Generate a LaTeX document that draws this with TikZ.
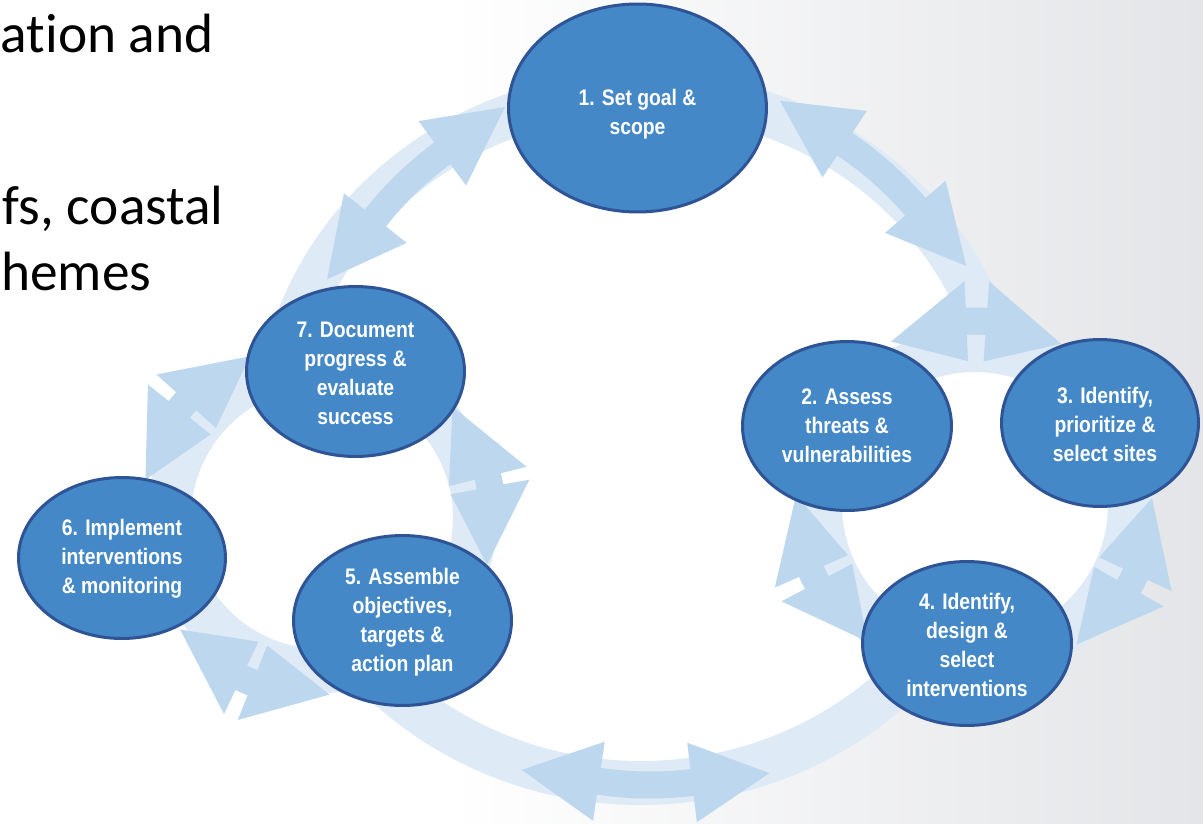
\documentclass[tikz,border=0pt]{standalone}
\usepackage{fontspec}
\setmainfont{Carlito}[Ligatures=NoCommon]
\newfontfamily\nodefont[FakeStretch=0.86]{Liberation Sans}
\usetikzlibrary{calc,shapes.geometric}
\definecolor{arrowblue}{RGB}{189,215,238}
\definecolor{paleblue}{RGB}{222,234,246}
\definecolor{nodefill}{RGB}{68,136,199}
\definecolor{nodeline}{RGB}{46,84,150}
\definecolor{bgright}{RGB}{228,229,232}
% double-headed block arrow along an arc:
% #1 centre, #2 radius, #3 base angle 1, #4 base angle 2, #5 tip angle offset, #6 tip radius
\newcommand{\dblarc}[6]{%
  \pgfmathsetmacro{\dRo}{#2+13.5}\pgfmathsetmacro{\dRi}{#2-13.5}%
  \pgfmathsetmacro{\dHo}{#2+40}\pgfmathsetmacro{\dHi}{#2-40}%
  \pgfmathsetmacro{\dTa}{#3-#5}\pgfmathsetmacro{\dTb}{#4+#5}%
  \fill[arrowblue] ($(#1)+(#3:\dHo)$) -- ($(#1)+(\dTa:#6)$) -- ($(#1)+(#3:\dHi)$)
    -- ($(#1)+(#3:\dRi)$) arc[start angle=#3, end angle=#4, radius=\dRi]
    -- ($(#1)+(#4:\dHi)$) -- ($(#1)+(\dTb:#6)$) -- ($(#1)+(#4:\dHo)$)
    -- ($(#1)+(#4:\dRo)$) arc[start angle=#4, end angle=#3, radius=\dRo] -- cycle;}
\begin{document}
\begin{tikzpicture}[x=0.02cm, y=-0.02cm,
  paleband/.style={draw=paleblue, line width=0.88cm},
  stagenode/.style={ellipse, draw=nodeline, line width=0.06cm, fill=nodefill, inner sep=0pt},
  stagetext/.style={text=white, align=center, inner sep=0pt,
    font=\nodefont\bfseries\fontsize{12.8pt}{16.5pt}\selectfont},
  slidetext/.style={anchor=base east, inner sep=0pt, font=\fontsize{31.5pt}{38pt}\selectfont}]
\useasboundingbox (0,0) rectangle (1203,824);
\clip (0,0) rectangle (1203,824);
% background
\fill[white] (0,0) rectangle (1203,824);
\shade[left color=white, right color=bgright] (450,0) rectangle (1203,824);
% slide text (cut at the left)
\node[slidetext] (t1) at (214,53) {ation and};
\node[slidetext] (t2) at (224,225) {fs, coastal};
\node[slidetext, anchor=base west] (t3) at (1,290) {hemes};
% ring centres
\coordinate (paleC) at (641,438);
\coordinate (bigC) at (650,435);
\coordinate (rightC) at (974,499);
\coordinate (rightP) at (975,505);
\coordinate (leftC) at (317,519);
\coordinate (leftP) at (322,518);
% white ring interiors
\fill[white] (paleC) ellipse[x radius=365, y radius=345];
\fill[white] (rightP) circle[radius=155];
\fill[white] (leftP) circle[radius=153];
% pale bands
\draw[paleband] ($(paleC)+(191:365 and 345)$) arc[start angle=191, end angle=342, x radius=365, y radius=345];
\draw[paleband] ($(paleC)+(40:365 and 345)$) arc[start angle=40, end angle=140, x radius=365, y radius=345];
\draw[paleband] (rightP) circle[radius=155];
\draw[paleband] (leftP) circle[radius=153];
% big ring arrows
\dblarc{bigC}{350}{218.3}{233.6}{12.56}{358.6}
\dblarc{bigC}{350}{303.8}{319.3}{12.56}{358.6}
\dblarc{bigC}{350}{83.1}{98.4}{12.56}{358.6}
% right ring arrows
\dblarc{rightC}{178}{267.5}{274}{25.3}{178}
\dblarc{rightC}{178}{152}{156}{25.3}{178}
\dblarc{rightC}{178}{25}{29.5}{25.3}{178}
% left ring arrows
\dblarc{leftC}{176}{218.5}{222}{25.6}{176}
\dblarc{leftC}{176}{111.5}{115.5}{25.6}{176}
\dblarc{leftC}{176}{346}{349.5}{25.6}{176}
% stages
\node[stagenode, minimum width=5.16cm, minimum height=4.16cm] (s1) at (637.5,108) {};
\node[stagetext] (s1t) at (637.5,114) {1. Set goal \&\\ scope};
\node[stagenode, minimum width=4.18cm, minimum height=3.38cm] (s2) at (847,426) {};
\node[stagetext] (s2t) at (s2) {2. Assess\\ threats \&\\ vulnerabilities};
\node[stagenode, minimum width=3.94cm, minimum height=3.34cm] (s3) at (1100,423) {};
\node[stagetext] (s3t) at (1105,424) {3. Identify,\\ prioritize \&\\ select sites};
\node[stagenode, minimum width=4.18cm, minimum height=3.28cm] (s4) at (967,643.5) {};
\node[stagetext] (s4t) at (967,645) {4. Identify,\\ design \&\\ select\\ interventions};
\node[stagenode, minimum width=4.36cm, minimum height=3.40cm] (s5) at (402.5,620.5) {};
\node[stagetext] (s5t) at (402.5,622) {5. Assemble\\ objectives,\\ targets \&\\ action plan};
\node[stagenode, minimum width=4.14cm, minimum height=3.22cm] (s6) at (122,558) {};
\node[stagetext] (s6t) at (122,559) {6. Implement\\ interventions\\ \& monitoring};
\node[stagenode, minimum width=4.36cm, minimum height=3.40cm] (s7) at (355.5,371.5) {};
\node[stagetext] (s7t) at (355.5,373) {7. Document\\ progress \&\\ evaluate\\ success};
\end{tikzpicture}
\end{document}
